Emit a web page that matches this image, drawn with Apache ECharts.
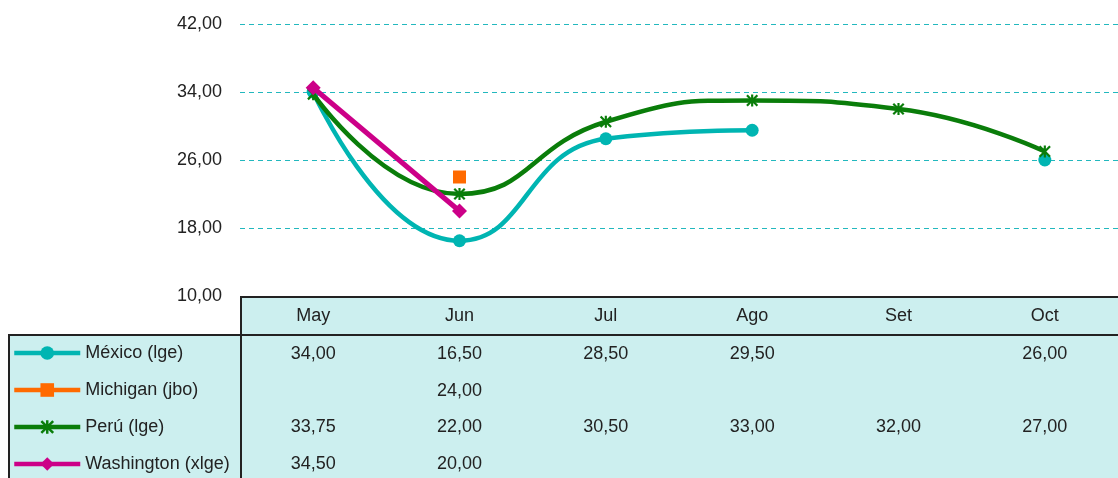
<!DOCTYPE html>
<html><head><meta charset="utf-8">
<script src="https://cdn.jsdelivr.net/npm/echarts@6/dist/echarts.min.js"></script>
<style>html,body{margin:0;padding:0;background:#fff}#c{width:1118px;height:478px}</style>
</head><body><div id="c"></div>
<script>
const categories = ['May','Jun','Jul','Ago','Set','Oct'];
const seriesNames = ['México (lge)','Michigan (jbo)','Perú (lge)','Washington (xlge)'];
const mexico = [34.00, 16.50, 28.50, 29.50, null, 26.00];
const michigan = [null, 24.00, null, null, null, null];
const peru = [33.75, 22.00, 30.50, 33.00, 32.00, 27.00];
const washington = [34.50, 20.00, null, null, null, null];
const yTicks = [10, 18, 26, 34, 42];

const allData = [mexico, michigan, peru, washington];
const colors = ['#00B5B2','#FF6A00','#0A7D0A','#CC0088'];
const fmt = v => (v == null ? '' : v.toFixed(2).replace('.', ','));
const FONT = '"Liberation Sans", Arial, sans-serif';
const FS = 18;
const starPath = 'path://M4.1,0h1.8v10h-1.8z M0,1.3l1.3,-1.3l8.7,8.7l-1.3,1.3z M8.7,0l1.3,1.3l-8.7,8.7l-1.3,-1.3z';

const rowOffsets = [38, 75, 111, 148];
const xAxes = [{
  type: 'category', data: categories, gridIndex: 0, position: 'bottom',
  boundaryGap: true,
  axisLine: {show: false}, axisTick: {show: false},
  axisLabel: {color: '#222', fontSize: FS, fontFamily: FONT, margin: 11}
}];
allData.forEach((arr, i) => {
  xAxes.push({
    type: 'category', data: categories, gridIndex: 0, position: 'bottom', offset: rowOffsets[i],
    axisLine: {show: false}, axisTick: {show: false}, splitLine: {show: false},
    axisLabel: {color: '#222', fontSize: FS, fontFamily: FONT, margin: 11,
      formatter: (val, idx) => fmt(arr[idx])}
  });
});

const symbols = ['circle', 'rect', starPath, 'diamond'];
const sizes = [13, 13, 12, 15];
const smooths = [0.5, false, 0.5, false];

const series = allData.map((arr, i) => ({
  name: seriesNames[i], type: 'line', data: arr, xAxisIndex: 0,
  smooth: smooths[i], connectNulls: false,
  symbol: symbols[i], symbolSize: sizes[i], showSymbol: true,
  lineStyle: {color: colors[i], width: i === 3 ? 5 : 4.5},
  itemStyle: {color: colors[i]},
  emphasis: {disabled: true}, animation: false, z: 2 + i
}));

const chart = echarts.init(document.getElementById('c'), null, {renderer: 'canvas'});
chart.setOption({
  animation: false,
  grid: {left: 240, top: 24, width: 885, height: 272, containLabel: false},
  xAxis: xAxes,
  yAxis: {
    type: 'value', min: 10, max: 42, interval: 8,
    axisLine: {show: false}, axisTick: {show: false},
    axisLabel: {color: '#222', fontSize: FS, fontFamily: FONT, margin: 18, formatter: v => fmt(v)},
    splitLine: {show: true, lineStyle: {color: '#22B8BE', type: [5, 4], width: 1.2}}
  },
  legend: {
    show: true, orient: 'vertical', left: 12, top: 344, height: 200, padding: 0,
    itemWidth: 66, itemHeight: 17, itemGap: 19,
    lineStyle: {width: 4.5},
    textStyle: {color: '#222', fontSize: FS, fontFamily: FONT, padding: [0, 0, 0, 0]},
    selectedMode: false, data: seriesNames
  },
  graphic: [
    {type: 'rect', shape: {x: 240, y: 296, width: 900, height: 40}, style: {fill: '#CCEFEF'}, z: -10, silent: true},
    {type: 'rect', shape: {x: 8, y: 335, width: 1130, height: 160}, style: {fill: '#CCEFEF'}, z: -10, silent: true},
    {type: 'line', shape: {x1: 240, y1: 297, x2: 1130, y2: 297}, style: {stroke: '#222', lineWidth: 2}, z: 100, silent: true},
    {type: 'line', shape: {x1: 8, y1: 335, x2: 1130, y2: 335}, style: {stroke: '#222', lineWidth: 2}, z: 100, silent: true},
    {type: 'line', shape: {x1: 241, y1: 296, x2: 241, y2: 480}, style: {stroke: '#222', lineWidth: 2}, z: 100, silent: true},
    {type: 'line', shape: {x1: 9, y1: 334, x2: 9, y2: 480}, style: {stroke: '#222', lineWidth: 2}, z: 100, silent: true}
  ],
  series: series
});
</script></body></html>
